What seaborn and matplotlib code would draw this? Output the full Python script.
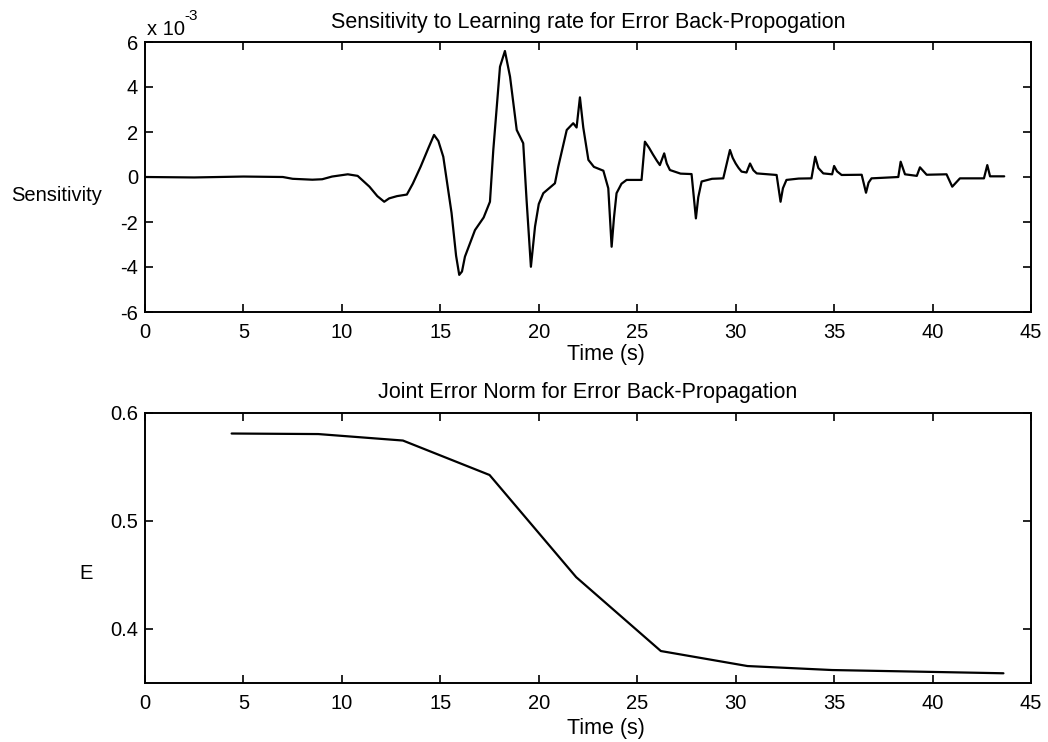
import matplotlib
matplotlib.use("Agg")
import matplotlib.pyplot as plt
import seaborn as sns
import pandas as pd

# ---- data (top: sensitivity in units of 1e-3) ----
sens_time = [0, 2.5, 5, 7, 7.5, 8.5, 9.0, 9.5, 10.3, 10.8, 11.4, 11.8, 12.15, 12.4, 12.8,
             13.3, 13.6, 14.0, 14.4, 14.68, 14.9, 15.15, 15.57, 15.8, 15.96, 16.1, 16.25,
             16.76, 17.2, 17.52, 17.69, 18.03, 18.28, 18.54, 18.88, 19.21, 19.38, 19.6,
             19.81, 20.0, 20.23, 20.82, 20.99, 21.42, 21.75, 21.92, 22.09, 22.26, 22.52,
             22.8, 23.28, 23.53, 23.7, 23.82, 23.95, 24.2, 24.46, 25.22, 25.39, 25.6, 25.8,
             26.0, 26.15, 26.37, 26.5, 26.66, 27.2, 27.76, 27.98, 28.1, 28.27, 28.8, 29.37,
             29.71, 29.85, 30.0, 30.15, 30.3, 30.55, 30.73, 30.9, 31.07, 32.08, 32.28,
             32.4, 32.58, 33.2, 33.85, 34.04, 34.2, 34.45, 34.9, 35.0, 35.15, 35.38, 36.4,
             36.62, 36.75, 36.9, 38.26, 38.38, 38.6, 39.2, 39.36, 39.7, 40.71, 41.0,
             41.39, 42.61, 42.78, 42.92, 43.64]
sens_vals = [0.0, -0.02, 0.02, 0.0, -0.08, -0.12, -0.1, 0.02, 0.12, 0.05, -0.43, -0.85,
             -1.1, -0.95, -0.85, -0.78, -0.3, 0.46, 1.3, 1.87, 1.6, 0.9, -1.6, -3.5, -4.35,
             -4.2, -3.54, -2.36, -1.8, -1.1, 1.2, 4.9, 5.6, 4.46, 2.09, 1.5, -1.02, -3.99,
             -2.2, -1.2, -0.72, -0.28, 0.46, 2.09, 2.39, 2.2, 3.54, 2.2, 0.76, 0.45, 0.28,
             -0.5, -3.1, -1.8, -0.72, -0.3, -0.13, -0.13, 1.57, 1.3, 1.0, 0.72, 0.53, 1.05,
             0.6, 0.31, 0.15, 0.13, -1.84, -0.9, -0.2, -0.08, -0.06, 1.2, 0.85, 0.6, 0.4,
             0.24, 0.2, 0.6, 0.3, 0.16, 0.09, -1.1, -0.5, -0.13, -0.07, -0.06, 0.9, 0.4,
             0.16, 0.12, 0.49, 0.25, 0.09, 0.1, -0.7, -0.25, -0.06, 0.0, 0.68, 0.12, 0.05,
             0.43, 0.1, 0.12, -0.43, -0.06, -0.06, 0.53, 0.03, 0.03]

# ---- data (bottom: joint error norm) ----
err_time = [4.4, 8.8, 13.1, 17.5, 21.9, 26.2, 30.6, 34.9, 39.3, 43.6]
err_vals = [0.581, 0.5805, 0.5745, 0.5426, 0.448, 0.3796, 0.3657, 0.362, 0.3605, 0.359]

x_ticks = [0, 5, 10, 15, 20, 25, 30, 35, 40, 45]
sens_yticks = [-6, -4, -2, 0, 2, 4, 6]
err_yticks = [0.4, 0.5, 0.6]

FS = 14.5
FT = 15.5
sns.set_theme(style="ticks")
plt.rcParams["font.family"] = ["Liberation Sans", "DejaVu Sans"]
plt.rcParams.update({
    "xtick.direction": "in", "ytick.direction": "in",
    "xtick.top": True, "ytick.right": True,
    "xtick.major.size": 5.8, "ytick.major.size": 5.8,
    "xtick.major.width": 1.2, "ytick.major.width": 1.2,
    "axes.linewidth": 1.4, "axes.edgecolor": "black",
    "xtick.color": "black", "ytick.color": "black",
    "text.color": "black", "axes.labelcolor": "black", "axes.titlecolor": "black",
    "font.size": FS, "xtick.labelsize": FS, "ytick.labelsize": FS,
})

fig = plt.figure(figsize=(10.48, 7.42), dpi=100)
W, H = 1048, 742
ax1 = fig.add_axes([145 / W, 1 - 312 / H, 886 / W, 270 / H])
ax2 = fig.add_axes([145 / W, 1 - 683 / H, 886 / W, 270 / H])

df1 = pd.DataFrame({"t": sens_time, "s": sens_vals})
df2 = pd.DataFrame({"t": err_time, "e": err_vals})
sns.lineplot(data=df1, x="t", y="s", ax=ax1, color="black", linewidth=1.6)
sns.lineplot(data=df2, x="t", y="e", ax=ax2, color="black", linewidth=1.6)

for ax in (ax1, ax2):
    ax.set_xlim(0, 45)
    ax.set_xticks(x_ticks)
    ax.set_xticklabels([str(v) for v in x_ticks])
    ax.tick_params(axis="x", pad=8)
    ax.tick_params(axis="y", pad=5)
    for sp in ax.spines.values():
        sp.set_visible(True)
        sp.set_color("black")

ax1.set_ylim(-6, 6)
ax1.set_yticks(sens_yticks)
ax1.set_yticklabels([str(v) for v in sens_yticks])
ax2.set_ylim(0.35, 0.6)
ax2.set_yticks(err_yticks)
ax2.set_yticklabels([f"{v:.1f}" for v in err_yticks])

ax1.set_title("Sensitivity to Learning rate for Error Back-Propogation", fontsize=FT, pad=10)
ax2.set_title("Joint Error Norm for Error Back-Propagation", fontsize=FT, pad=11)

ax1.set_xlabel("Time (s)", fontsize=FT)
ax1.xaxis.set_label_coords(0.52, -0.117)
ax2.set_xlabel("Time (s)", fontsize=FT)
ax2.xaxis.set_label_coords(0.52, -0.13)

ax1.set_ylabel("Sensitivity", rotation=0, ha="right", va="center", fontsize=FS)
ax1.yaxis.set_label_coords(-0.0485, 0.433)
ax2.set_ylabel("E", rotation=0, ha="right", va="center", fontsize=FS)
ax2.yaxis.set_label_coords(-0.0587, 0.407)

ax1.text(0.002, 1 + 7 / 270, "x 10", transform=ax1.transAxes, ha="left", va="baseline", fontsize=FS)
ax1.text(0.045, 1 + 22 / 270, "-3", transform=ax1.transAxes, ha="left", va="baseline", fontsize=11)

fig.savefig("out.png", dpi=100, facecolor="white")
